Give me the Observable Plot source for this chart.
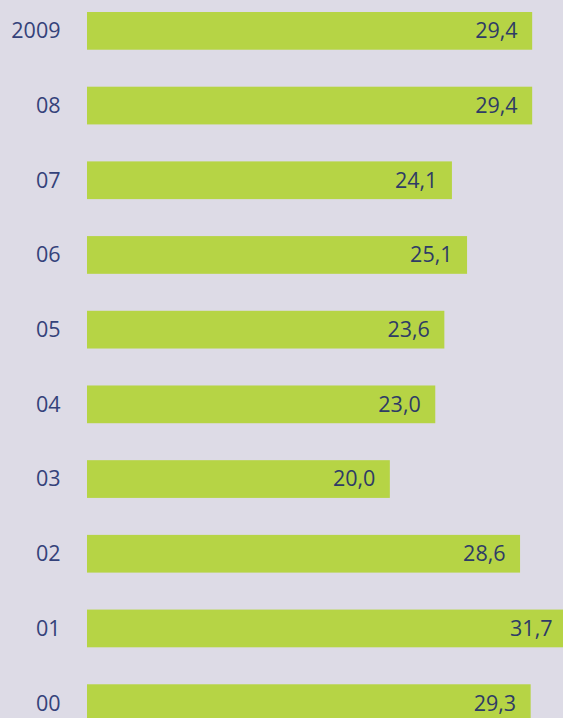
<!DOCTYPE html>
<html>
<head>
<meta charset="utf-8">
<script src="https://cdn.jsdelivr.net/npm/d3@7"></script>
<script src="https://cdn.jsdelivr.net/npm/@observablehq/plot@0.6"></script>
<style>
  html, body { margin: 0; padding: 0; background: #dddbe6; }
  #chart { width: 563px; height: 718px; overflow: hidden; }
  #chart svg { overflow: hidden; }
</style>
</head>
<body>
<div id="chart"></div>
<script>
const years = ["2009", "08", "07", "06", "05", "04", "03", "02", "01", "00"];
const values = [29.4, 29.4, 24.1, 25.1, 23.6, 23.0, 20.0, 28.6, 31.7, 29.3];

const data = years.map((y, i) => ({year: y, value: values[i]}));
const fmt = v => d3.format(".1f")(v).replace(".", ",");

const chart = Plot.plot({
  width: 563,
  height: 718,
  marginLeft: 87,
  marginRight: -4,
  marginTop: 12,
  marginBottom: -4,
  style: {background: "#dddbe6", fontFamily: "'Open Sans', Lato, sans-serif", overflow: "hidden"},
  x: {domain: [0, 31.7], axis: null},
  y: {domain: years, paddingInner: 0.495, paddingOuter: 0, round: false, label: null},
  marks: [
    Plot.barX(data, {x: "value", y: "year", fill: "#b6d445"}),
    Plot.text(data, {x: "value", y: "year", text: d => fmt(d.value), textAnchor: "end", dx: -15, fill: "#2e3b66", fontSize: 21.5, fontWeight: 400}),
    Plot.axisY({tickSize: 0, tickPadding: 27, fontSize: 21.5, fontWeight: 400, color: "#34427a", label: null})
  ]
});
document.getElementById("chart").appendChild(chart);
</script>
</body>
</html>
